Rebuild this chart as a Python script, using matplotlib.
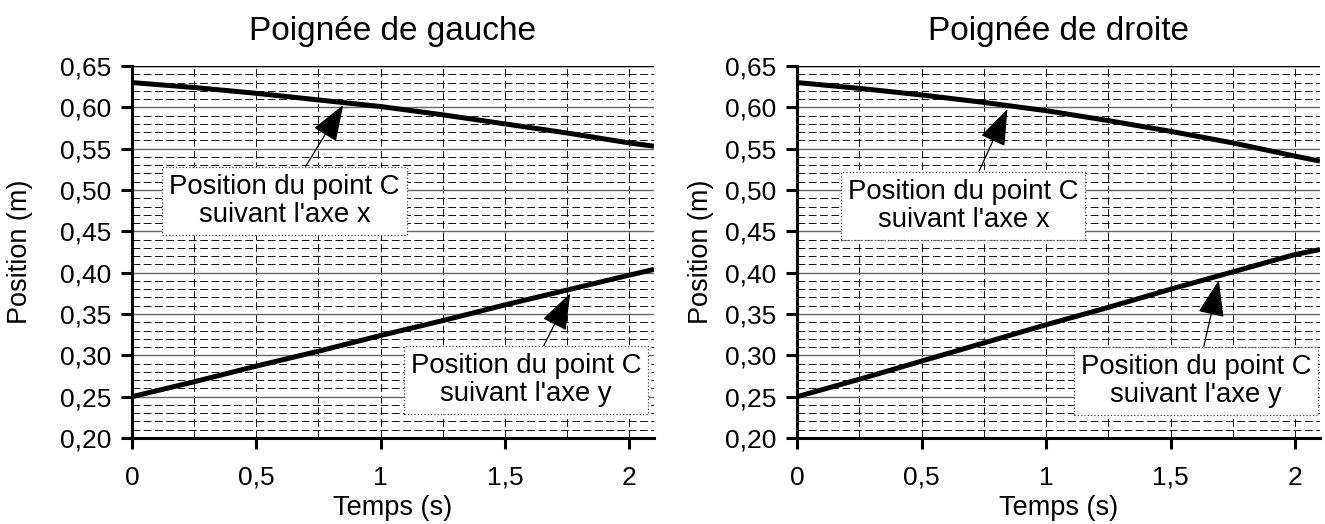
import matplotlib
matplotlib.use("Agg")
import matplotlib.pyplot as plt
from matplotlib.ticker import MultipleLocator, FuncFormatter

plt.rcParams['font.family'] = ['Liberation Sans', 'DejaVu Sans']

# ---- data ----
t = [0.0, 0.25, 0.5, 0.75, 1.0, 1.25, 1.5, 1.75, 2.0, 2.1]
left_x = [0.630, 0.624, 0.617, 0.609, 0.601, 0.591, 0.580, 0.569, 0.557, 0.553]
left_y = [0.250, 0.268, 0.287, 0.305, 0.324, 0.342, 0.361, 0.379, 0.397, 0.404]
right_x = [0.630, 0.623, 0.615, 0.606, 0.596, 0.584, 0.571, 0.557, 0.541, 0.535]
right_y = [0.250, 0.271, 0.293, 0.315, 0.337, 0.358, 0.380, 0.401, 0.422, 0.428]

titles = ["Poignée de gauche", "Poignée de droite"]
xlabel = "Temps (s)"
ylabel = "Position (m)"
label_x = "Position du point C\nsuivant l'axe x"
label_y = "Position du point C\nsuivant l'axe y"

# annotation anchor (arrow tip) and text centre, in data coords
ann_left = [((0.85, 0.603), (0.614, 0.487)), ((1.763, 0.375), (1.586, 0.270))]
ann_right = [((0.845, 0.598), (0.668, 0.481)), ((1.694, 0.391), (1.602, 0.269))]

fig = plt.figure(figsize=(13.25, 5.24), dpi=100)
ax1 = fig.add_axes([0.0996, 0.1641, 0.394, 0.7099])
ax2 = fig.add_axes([0.6015, 0.1641, 0.3947, 0.7099])

fmt = FuncFormatter(lambda v, p: ("%.2f" % v).replace(".", ","))
fmtx = FuncFormatter(lambda v, p: ("%g" % v).replace(".", ","))

for ax, title, xs, ys, anns, ylp in [(ax1, titles[0], left_x, left_y, ann_left, 19),
                                     (ax2, titles[1], right_x, right_y, ann_right, 8)]:
    ax.set_xlim(0, 2.1)
    ax.set_ylim(0.20, 0.65)
    ax.yaxis.set_major_locator(MultipleLocator(0.05))
    ax.yaxis.set_minor_locator(MultipleLocator(0.01))
    ax.xaxis.set_major_locator(MultipleLocator(0.5))
    ax.xaxis.set_minor_locator(MultipleLocator(0.25))
    ax.yaxis.set_major_formatter(fmt)
    ax.xaxis.set_major_formatter(fmtx)
    ax.grid(which='major', axis='y', color='#666666', lw=1.0, ls='-')
    ax.grid(which='minor', axis='y', color='#111111', lw=0.7, ls=(0, (8, 3.6)))
    ax.grid(which='both', axis='x', color='#111111', lw=0.7, ls=(0, (8, 4)))
    ax.tick_params(which='minor', length=0)
    ax.tick_params(which='major', direction='out', length=8, width=2.2,
                   labelsize=19)
    ax.tick_params(axis='y', pad=7)
    ax.tick_params(axis='x', pad=12)
    for s in ['top', 'right']:
        ax.spines[s].set_visible(False)
    ax.spines['left'].set_linewidth(2.2)
    ax.spines['bottom'].set_linewidth(2.2)
    ax.axhline(0.65, color='black', lw=1.0)
    ax.set_xlabel(xlabel, fontsize=19.5, labelpad=4)
    ax.set_ylabel(ylabel, fontsize=19.5, labelpad=ylp)
    ax.set_title(title, fontsize=24, pad=18.5)
    ax.plot(t, xs, color='black', lw=3.6, solid_capstyle='butt', zorder=3)
    ax.plot(t, ys, color='black', lw=3.6, solid_capstyle='butt', zorder=3)
    for (tip, cen), lab in zip(anns, [label_x, label_y]):
        ax.annotate(lab, xy=tip, xytext=cen, xycoords='data', textcoords='data',
                    ha='center', va='center', multialignment='center',
                    fontsize=19.8, linespacing=1.12, zorder=5,
                    bbox=dict(boxstyle='square,pad=0.25', fc='white',
                              ec='#444444', lw=0.9, ls=':'),
                    arrowprops=dict(arrowstyle='-|>,head_length=2.9,head_width=1.05',
                                    mutation_scale=8, color='black', lw=0.9,
                                    shrinkA=0, shrinkB=0))

fig.savefig("out.png", dpi=100)
